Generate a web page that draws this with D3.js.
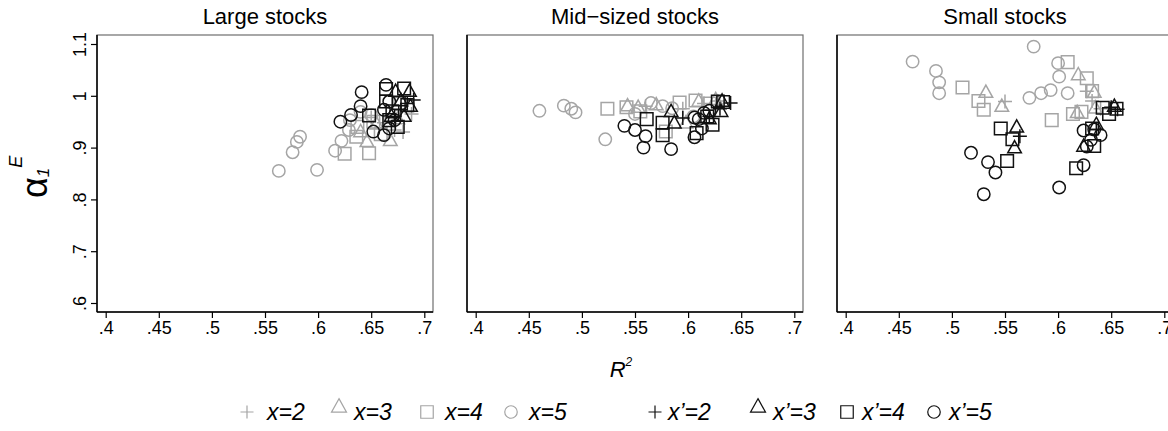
<!DOCTYPE html>
<html>
<head>
<meta charset="utf-8">
<script src="https://cdn.jsdelivr.net/npm/d3@7"></script>
<style>
  html, body { margin: 0; padding: 0; background: #fff; }
  svg { display: block; }
  text { font-family: "Liberation Sans", Arial, Helvetica, sans-serif; fill: #000; }
</style>
</head>
<body>
<svg id="chart" width="1168" height="431"></svg>
<script>
// ---- data: [R², alpha_1^E] pairs per panel and per specification ----
const panelTitles = ["Large stocks", "Mid\u2212sized stocks", "Small stocks"];

const xTicks = [0.4, 0.45, 0.5, 0.55, 0.6, 0.65, 0.7];
const xTickLabels = [".4", ".45", ".5", ".55", ".6", ".65", ".7"];
const yTicks = [0.6, 0.7, 0.8, 0.9, 1.0, 1.1];
const yTickLabels = [".6", ".7", ".8", ".9", "1", "1.1"];

// Large stocks
const largeX2 = [[0.672,0.934],[0.680,0.930],[0.662,0.948],[0.650,0.958],[0.688,0.965]];
const largeX3 = [[0.646,0.911],[0.668,0.913],[0.640,0.930],[0.655,0.945],[0.675,0.955]];
const largeX4 = [[0.625,0.888],[0.648,0.889],[0.636,0.921],[0.659,0.926],[0.637,0.940],[0.652,0.950]];
const largeX5 = [[0.563,0.855],[0.599,0.857],[0.576,0.891],[0.580,0.911],[0.583,0.921],[0.616,0.894],
                 [0.622,0.913],[0.629,0.934],[0.630,0.953],[0.640,0.969],[0.650,0.963]];
const largeXp2 = [[0.690,0.992],[0.678,0.973],[0.672,0.960],[0.684,0.985]];
const largeXp3 = [[0.686,1.008],[0.673,1.008],[0.687,0.979],[0.681,0.960],[0.669,0.960],[0.678,0.990]];
const largeXp4 = [[0.648,0.962],[0.664,1.013],[0.681,1.014],[0.664,0.989],[0.676,0.986],[0.667,0.953],
                  [0.675,0.940],[0.684,0.982],[0.670,0.970]];
const largeXp5 = [[0.664,1.021],[0.641,1.007],[0.640,0.980],[0.631,0.963],[0.621,0.950],[0.652,0.931],
                  [0.662,0.924],[0.667,0.937],[0.662,0.973],[0.667,0.989],[0.672,0.953]];

// Mid-sized stocks
const midX2 = [[0.560,0.980],[0.595,0.975],[0.615,0.985],[0.628,0.990]];
const midX3 = [[0.543,0.980],[0.553,0.977],[0.610,0.989],[0.626,0.992],[0.598,0.947],[0.570,0.982]];
const midX4 = [[0.524,0.975],[0.542,0.978],[0.592,0.987],[0.607,0.991],[0.579,0.931],[0.555,0.970],[0.620,0.985]];
const midX5 = [[0.460,0.971],[0.483,0.981],[0.490,0.975],[0.494,0.968],[0.522,0.916],[0.565,0.986],
               [0.576,0.980],[0.585,0.976],[0.550,0.965],[0.605,0.960]];
const midXp2 = [[0.640,0.986],[0.595,0.957],[0.620,0.960],[0.630,0.975]];
const midXp3 = [[0.584,0.969],[0.587,0.947],[0.631,0.969],[0.632,0.989],[0.620,0.955]];
const midXp4 = [[0.561,0.955],[0.576,0.948],[0.576,0.924],[0.608,0.928],[0.623,0.944],[0.628,0.989],
                [0.633,0.988],[0.618,0.960]];
const midXp5 = [[0.540,0.942],[0.550,0.934],[0.560,0.922],[0.558,0.900],[0.584,0.897],[0.606,0.920],
                [0.606,0.958],[0.613,0.937],[0.615,0.967],[0.620,0.971],[0.610,0.955]];

// Small stocks
const smallX2 = [[0.550,0.989],[0.627,1.009],[0.632,0.990],[0.640,0.975]];
const smallX3 = [[0.532,1.006],[0.547,0.979],[0.619,1.040],[0.634,1.006],[0.618,0.967],[0.635,0.976]];
const smallX4 = [[0.510,1.016],[0.525,0.990],[0.530,0.973],[0.609,1.065],[0.627,1.034],[0.632,1.009],
                 [0.594,0.953],[0.614,0.965],[0.622,0.969]];
const smallX5 = [[0.463,1.066],[0.485,1.048],[0.488,1.026],[0.488,1.005],[0.577,1.095],[0.600,1.063],
                 [0.601,1.037],[0.593,1.011],[0.584,1.005],[0.573,0.996],[0.609,1.005]];
const smallXp2 = [[0.564,0.922],[0.656,0.974],[0.636,0.935],[0.650,0.978]];
const smallXp3 = [[0.561,0.939],[0.559,0.899],[0.624,0.902],[0.636,0.944],[0.653,0.979]];
const smallXp4 = [[0.546,0.937],[0.557,0.916],[0.552,0.874],[0.617,0.860],[0.634,0.903],[0.642,0.977],
                  [0.648,0.965],[0.655,0.975],[0.632,0.937]];
const smallXp5 = [[0.518,0.890],[0.534,0.872],[0.541,0.852],[0.530,0.810],[0.601,0.823],[0.624,0.866],
                  [0.624,0.933],[0.627,0.902],[0.640,0.924],[0.634,0.935],[0.631,0.915]];

const seriesNames = ["x", "x", "x", "x", "x\u2019", "x\u2019", "x\u2019", "x\u2019"];
const seriesOrders = [2, 3, 4, 5, 2, 3, 4, 5];
const seriesShapes = ["plus", "triangle", "square", "circle", "plus", "triangle", "square", "circle"];
const seriesColors = ["#a5a5a5", "#a5a5a5", "#a5a5a5", "#a5a5a5", "#111", "#111", "#111", "#111"];

const panelData = [
  [largeX2, largeX3, largeX4, largeX5, largeXp2, largeXp3, largeXp4, largeXp5],
  [midX2, midX3, midX4, midX5, midXp2, midXp3, midXp4, midXp5],
  [smallX2, smallX3, smallX4, smallX5, smallXp2, smallXp3, smallXp4, smallXp5]
];

// ---- marker shapes (open symbols) ----
const shapeTypes = {
  circle: { draw(ctx, size) { const r = size / 2; ctx.moveTo(r, 0); ctx.arc(0, 0, r, 0, 2 * Math.PI); } },
  square: { draw(ctx, size) { const h = size / 2; ctx.rect(-h, -h, size, size); } },
  triangle: { draw(ctx, size) {
      const h = size * 0.9, w = size / 2;
      ctx.moveTo(0, -h * 0.62); ctx.lineTo(w, h * 0.38); ctx.lineTo(-w, h * 0.38); ctx.closePath(); } },
  plus: { draw(ctx, size) { const h = size / 2; ctx.moveTo(-h, 0); ctx.lineTo(h, 0); ctx.moveTo(0, -h); ctx.lineTo(0, h); } }
};
const shapeSize = { circle: 12.4, square: 12.6, triangle: 13.6, plus: 14 };

// ---- layout ----
const svg = d3.select("#chart");
const panelLeft = [97, 467, 837];
const panelW = 336, plotTop = 35, plotBottom = 312;
const pad = 8.7;

const yScale = d3.scaleLinear().domain([0.6, 1.1]).range([303, 44]);

panelData.forEach((series, p) => {
  const x0 = panelLeft[p];
  const xScale = d3.scaleLinear().domain([0.4, 0.7]).range([x0 + pad, x0 + panelW - pad]);
  const g = svg.append("g");

  // plot region outline
  g.append("rect")
    .attr("x", x0).attr("y", plotTop).attr("width", panelW).attr("height", plotBottom - plotTop)
    .attr("fill", "none").attr("stroke", "#6e6e6e").attr("stroke-width", 1.2);

  // title
  g.append("text")
    .attr("x", x0 + panelW / 2).attr("y", 24)
    .attr("text-anchor", "middle").attr("font-size", 22)
    .text(panelTitles[p]);

  // x axis
  const xAxis = d3.axisBottom(xScale).tickValues(xTicks)
    .tickFormat((d, i) => xTickLabels[i]).tickSize(6).tickSizeOuter(0).tickPadding(3);
  const xa = g.append("g").attr("transform", `translate(0,${plotBottom})`).call(xAxis);
  xa.select(".domain").attr("d", `M${x0},0H${x0 + panelW}`).attr("stroke", "#000").attr("stroke-width", 1.5);
  xa.selectAll(".tick line").attr("stroke", "#000").attr("stroke-width", 1.2);
  xa.selectAll(".tick text").attr("font-size", 18).attr("font-family", null).attr("fill", "#000");

  // y axis (ticks and labels only on the first panel)
  const ya = g.append("g").attr("transform", `translate(${x0},0)`);
  if (p === 0) {
    const yAxis = d3.axisLeft(yScale).tickValues(yTicks)
      .tickFormat((d, i) => yTickLabels[i]).tickSize(6).tickSizeOuter(0).tickPadding(0);
    ya.call(yAxis);
    ya.selectAll(".tick line").attr("stroke", "#000").attr("stroke-width", 1.2);
    ya.selectAll(".tick text")
      .attr("font-size", 18).attr("font-family", null).attr("fill", "#000")
      .attr("text-anchor", "middle").attr("x", null).attr("dy", null)
      .attr("transform", "translate(-11,0) rotate(-90)");
    ya.select(".domain").remove();
  }
  ya.append("line").attr("x1", 0).attr("x2", 0).attr("y1", plotTop).attr("y2", plotBottom)
    .attr("stroke", "#000").attr("stroke-width", 1.5);

  // markers: grey specifications first, black ones on top
  series.forEach((pts, s) => {
    const shape = seriesShapes[s];
    const sym = d3.symbol().type(shapeTypes[shape]).size(shapeSize[shape]);
    g.append("g").selectAll("path").data(pts).join("path")
      .attr("transform", d => `translate(${xScale(d[0])},${yScale(d[1])})`)
      .attr("d", sym)
      .attr("fill", "none")
      .attr("stroke", seriesColors[s])
      .attr("stroke-width", 1.5);
  });
});

// ---- y-axis title: alpha_1^E ----
const ylab = svg.append("text")
  .attr("transform", "translate(47,198) rotate(-90)");
ylab.append("tspan").attr("font-size", 36).text("\u03b1");
ylab.append("tspan").attr("font-size", 17).attr("font-style", "italic").attr("dy", 2).text("1");
ylab.append("tspan").attr("font-size", 18).attr("font-style", "italic").attr("dy", -27).text("E");

// ---- x-axis title: R^2 ----
const xlab = svg.append("text")
  .attr("x", 621).attr("y", 377).attr("text-anchor", "middle");
xlab.append("tspan").attr("font-size", 22).attr("font-style", "italic").text("R");
xlab.append("tspan").attr("font-size", 12).attr("font-style", "italic").attr("dy", -11).text("2");

// ---- legend ----
const legendX = [247, 339, 427, 511, 655, 758, 847, 934];
const legendTextX = [267, 354, 445, 529, 668, 773, 862, 949];
const legendY = 412;
const legendSize = { circle: 12.5, square: 12.5, triangle: 15, plus: 13 };
seriesShapes.forEach((shape, s) => {
  const dy = shape === "triangle" ? -5 : 0;
  svg.append("path")
    .attr("transform", `translate(${legendX[s]},${legendY + dy})`)
    .attr("d", d3.symbol().type(shapeTypes[shape]).size(legendSize[shape])())
    .attr("fill", "none").attr("stroke", seriesColors[s]).attr("stroke-width", 1.2);
  svg.append("text")
    .attr("x", legendTextX[s]).attr("y", legendY + 8)
    .attr("font-size", 23).attr("font-style", "italic")
    .text(`${seriesNames[s]}=${seriesOrders[s]}`);
});
</script>
</body>
</html>
